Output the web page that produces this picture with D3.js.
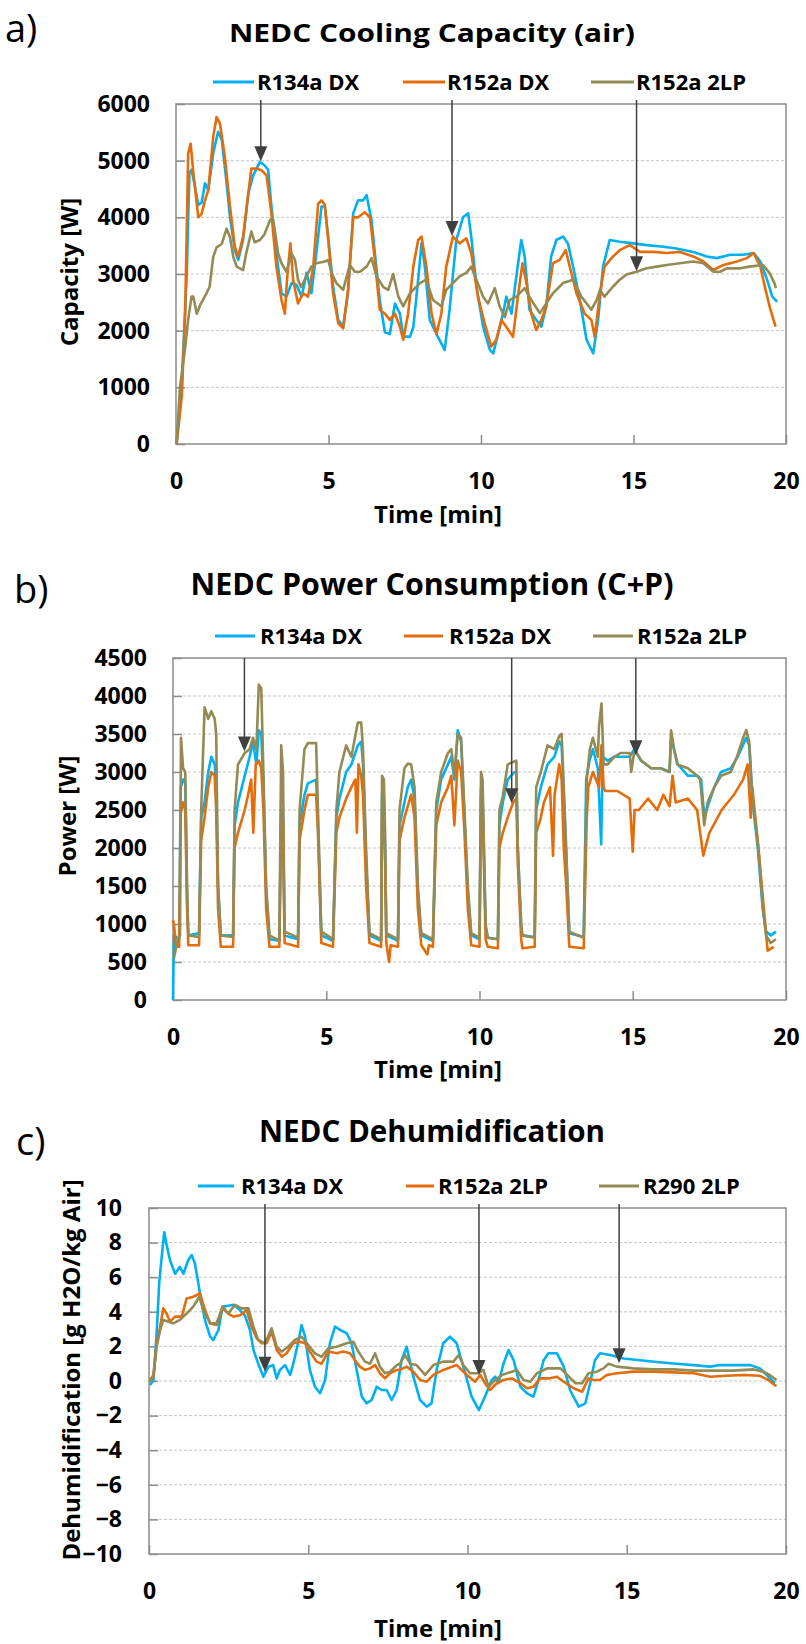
<!DOCTYPE html>
<html>
<head>
<meta charset="utf-8">
<script src="https://cdn.jsdelivr.net/npm/d3@7"></script>
<style>
body{margin:0;background:#fff;}
svg text{font-family:"Open Sans",sans-serif;font-weight:700;fill:#000;}
</style>
</head>
<body>
<script>
// ---- data: [time min, value] ----
var timeTicks = [0,5,10,15,20]
var capTicks = [0,1000,2000,3000,4000,5000,6000]
var powerTicks = [0,500,1000,1500,2000,2500,3000,3500,4000,4500]
var dehumTicks = [-10,-8,-6,-4,-2,0,2,4,6,8,10]

var namesAB = ["R134a DX","R152a DX","R152a 2LP"]
var namesC = ["R134a DX","R152a 2LP","R290 2LP"]
var colors = ["#00b0f0","#e46c0a","#948a54"]

var capR134aDX = [[0.02,0],[0.19,1100],[0.35,2960],[0.44,4780],[0.51,4840],[0.62,4550],[0.73,4220],[0.84,4260],[0.95,4600],[1.06,4480],[1.22,5130],[1.38,5510],[1.5,5370],[1.66,4600],[1.77,4000],[1.93,3420],[2.04,3250],[2.2,3600],[2.37,4420],[2.53,4740],[2.75,4980],[2.9,4920],[3.02,4840],[3.13,4190],[3.29,3370],[3.46,2660],[3.62,2600],[3.79,2840],[3.95,2810],[4.12,2600],[4.28,3020],[4.44,2660],[4.6,3370],[4.77,4190],[4.88,4190],[4.99,3660],[5.15,2780],[5.32,2190],[5.48,2070],[5.64,2660],[5.81,4070],[5.97,4300],[6.14,4300],[6.25,4390],[6.41,3950],[6.52,3370],[6.68,2540],[6.85,1970],[7.01,1940],[7.18,2480],[7.34,2300],[7.45,1900],[7.67,1890],[7.78,2060],[7.94,2900],[8.05,3540],[8.16,3130],[8.32,2190],[8.54,1940],[8.81,1660],[8.97,2370],[9.19,3600],[9.41,4000],[9.58,4070],[9.68,3660],[9.85,2780],[10.07,2070],[10.29,1660],[10.4,1600],[10.56,1940],[10.72,2300],[10.83,2600],[11.0,2300],[11.16,2960],[11.32,3600],[11.43,3310],[11.59,2370],[11.81,2190],[11.98,2070],[12.14,2430],[12.3,3310],[12.47,3600],[12.69,3660],[12.85,3540],[13.02,3130],[13.24,2540],[13.46,1840],[13.68,1600],[13.84,2190],[14.0,3130],[14.22,3600],[14.55,3570],[14.99,3540],[15.43,3510],[15.98,3480],[16.41,3450],[16.96,3390],[17.4,3310],[17.73,3280],[18.17,3340],[18.61,3340],[18.94,3370],[19.16,3220],[19.38,2900],[19.55,2600],[19.71,2510]]
var capR152aDX = [[0.02,0],[0.19,840],[0.3,2300],[0.4,5130],[0.48,5300],[0.57,4780],[0.73,4000],[0.84,4060],[0.95,4300],[1.06,4480],[1.22,5420],[1.33,5770],[1.44,5660],[1.6,5070],[1.77,4190],[1.93,3480],[2.04,3310],[2.2,3660],[2.37,4420],[2.47,4860],[2.64,4860],[2.8,4830],[2.97,4740],[3.13,4060],[3.29,3130],[3.46,2540],[3.57,2300],[3.64,2900],[3.75,3540],[3.84,2900],[4.0,2480],[4.17,2660],[4.33,2600],[4.5,3130],[4.66,4240],[4.77,4300],[4.88,4220],[4.99,3600],[5.15,2660],[5.32,2130],[5.48,2040],[5.64,2720],[5.81,4000],[5.97,4000],[6.19,4090],[6.36,4000],[6.52,3250],[6.68,2370],[6.85,2300],[7.01,2190],[7.18,2300],[7.34,2070],[7.45,1840],[7.61,2300],[7.78,3130],[7.94,3600],[8.05,3660],[8.21,3130],[8.38,2300],[8.54,1940],[8.7,2300],[8.86,3130],[9.08,3660],[9.3,3540],[9.52,3630],[9.68,3370],[9.9,2600],[10.12,2130],[10.34,1720],[10.5,1840],[10.67,2190],[10.83,2070],[11.05,1890],[11.21,2600],[11.36,3190],[11.49,2840],[11.65,2300],[11.81,2010],[11.98,2190],[12.14,2430],[12.36,3190],[12.58,3250],[12.78,3420],[12.91,3130],[13.13,2660],[13.4,2300],[13.62,2190],[13.73,1890],[13.9,2660],[14.05,3130],[14.33,3310],[14.55,3420],[14.88,3510],[15.21,3390],[15.65,3390],[16.09,3370],[16.52,3390],[16.96,3310],[17.29,3220],[17.62,3070],[17.95,3160],[18.39,3220],[18.72,3280],[18.94,3370],[19.16,3130],[19.33,2720],[19.49,2370],[19.66,2070]]
var capR152a2LP = [[0.02,0],[0.13,1000],[0.3,1700],[0.4,2200],[0.51,2600],[0.57,2600],[0.68,2300],[0.79,2450],[1.0,2660],[1.1,2770],[1.22,3300],[1.33,3470],[1.5,3530],[1.66,3800],[1.77,3650],[1.88,3300],[1.99,3130],[2.2,3070],[2.3,3360],[2.47,3750],[2.58,3560],[2.75,3600],[2.9,3700],[3.08,3950],[3.17,4000],[3.24,3770],[3.35,3360],[3.46,3190],[3.62,3040],[3.79,3360],[3.9,3250],[4.0,2900],[4.1,2770],[4.27,2950],[4.44,3130],[4.6,3190],[4.88,3220],[4.99,3250],[5.1,3020],[5.26,2840],[5.48,2720],[5.7,3160],[5.86,3040],[6.03,3040],[6.25,3130],[6.41,3280],[6.58,2950],[6.8,2770],[6.96,2720],[7.12,3000],[7.29,2600],[7.45,2430],[7.67,2660],[8.0,2840],[8.2,2900],[8.43,2540],[8.7,2430],[8.86,2720],[9.08,2840],[9.3,2960],[9.52,3020],[9.68,3130],[9.85,2900],[10.07,2600],[10.23,2480],[10.45,2750],[10.61,2430],[10.78,2240],[10.94,2540],[11.16,2600],[11.43,2750],[11.65,2540],[11.93,2310],[12.14,2480],[12.36,2660],[12.69,2840],[13.02,2900],[13.29,2600],[13.62,2370],[13.79,2540],[13.9,2720],[14.05,2600],[14.33,2780],[14.55,2900],[14.77,2990],[15.1,3040],[15.43,3100],[15.76,3130],[16.09,3160],[16.52,3190],[16.96,3220],[17.29,3190],[17.62,3040],[17.84,3040],[18.06,3100],[18.5,3100],[18.8,3130],[19.24,3160],[19.46,3020],[19.62,2840],[19.67,2750]]
var capArrows = [[2.78,4990],[9.05,3670],[15.1,3050]]

var powR134aDX = [[0,0],[0.03,850],[0.2,800],[0.25,2800],[0.33,2900],[0.4,2850],[0.46,1300],[0.5,850],[0.85,880],[0.92,2400],[1.03,2600],[1.15,3000],[1.25,3200],[1.36,3100],[1.41,2800],[1.47,1500],[1.56,850],[1.96,850],[2.01,2300],[2.12,2600],[2.34,2950],[2.5,3200],[2.61,3400],[2.72,3100],[2.8,3550],[2.88,3500],[2.95,2800],[3.04,1400],[3.15,800],[3.47,780],[3.53,2500],[3.59,2400],[3.64,850],[4.08,800],[4.13,2300],[4.29,2700],[4.4,2850],[4.67,2900],[4.73,2300],[4.84,850],[5.22,780],[5.33,2400],[5.43,2650],[5.65,3000],[5.82,3100],[6.03,3350],[6.14,3400],[6.2,3100],[6.3,1800],[6.41,850],[6.79,780],[6.82,2700],[6.88,2650],[6.92,2000],[6.96,850],[7.34,780],[7.39,2300],[7.55,2600],[7.66,2800],[7.77,2900],[7.88,2650],[7.99,1400],[8.1,850],[8.48,780],[8.59,2500],[8.75,2900],[8.97,3100],[9.08,3200],[9.18,2900],[9.29,3550],[9.4,3400],[9.51,2400],[9.62,1400],[9.73,850],[10.0,800],[10.05,2800],[10.1,2700],[10.2,950],[10.27,820],[10.6,800],[10.65,2300],[10.76,2600],[10.92,2900],[11.14,3000],[11.2,3000],[11.25,2000],[11.36,950],[11.4,850],[11.8,830],[11.85,2500],[12.0,2800],[12.22,3100],[12.44,3200],[12.6,3400],[12.68,3350],[12.83,1900],[12.93,880],[13.4,830],[13.48,2900],[13.59,3150],[13.7,3300],[13.86,3050],[13.97,2050],[14.02,3200],[14.18,3150],[14.4,3200],[14.62,3200],[14.9,3200],[15.05,3300],[15.27,3150],[15.6,3050],[15.92,3050],[16.2,3000],[16.25,3450],[16.47,3100],[16.8,2950],[17.12,2950],[17.23,2900],[17.34,2400],[17.45,2550],[17.66,2800],[17.88,3000],[18.2,3050],[18.42,3200],[18.59,3350],[18.7,3450],[18.8,3350],[18.91,2600],[19.08,2000],[19.24,1200],[19.35,900],[19.51,850],[19.67,900]]
var powR152aDX = [[0,1050],[0.03,1000],[0.1,700],[0.2,700],[0.25,2450],[0.33,2600],[0.4,2500],[0.46,1200],[0.5,720],[0.85,720],[0.92,2100],[1.03,2400],[1.15,2800],[1.25,3000],[1.36,2950],[1.41,2500],[1.47,1200],[1.56,700],[1.96,700],[2.01,2000],[2.12,2200],[2.34,2500],[2.45,2700],[2.55,2900],[2.62,2200],[2.7,3100],[2.8,3150],[2.88,3050],[2.95,2500],[3.04,1200],[3.15,700],[3.47,700],[3.53,2400],[3.59,2300],[3.64,750],[4.08,700],[4.13,2100],[4.29,2500],[4.4,2700],[4.67,2700],[4.73,2200],[4.84,750],[5.22,700],[5.33,2200],[5.43,2400],[5.65,2650],[5.82,2800],[5.95,2900],[6.0,2200],[6.05,3100],[6.14,2950],[6.2,2700],[6.3,1500],[6.41,750],[6.79,700],[6.82,2400],[6.88,2300],[6.92,1800],[6.96,750],[7.05,500],[7.1,720],[7.34,700],[7.39,2100],[7.55,2400],[7.66,2550],[7.77,2700],[7.88,2400],[7.99,1200],[8.1,720],[8.3,600],[8.35,720],[8.48,700],[8.59,2300],[8.75,2600],[8.97,2800],[9.08,2950],[9.18,2300],[9.29,3150],[9.4,3000],[9.51,2200],[9.62,1200],[9.73,720],[10.0,700],[10.05,2700],[10.1,2600],[10.2,800],[10.27,700],[10.6,680],[10.65,2000],[10.76,2200],[10.92,2400],[11.1,2600],[11.2,2650],[11.25,1800],[11.36,800],[11.4,680],[11.8,700],[11.85,2200],[12.0,2400],[12.1,2600],[12.3,2800],[12.4,1900],[12.45,2700],[12.6,3100],[12.68,2900],[12.75,2000],[12.83,1500],[12.93,700],[13.4,680],[13.5,2400],[13.55,2800],[13.7,3000],[13.9,2800],[13.98,3350],[14.05,2800],[14.1,2750],[14.5,2750],[14.9,2650],[15.0,1950],[15.06,2500],[15.2,2500],[15.5,2650],[15.8,2500],[16.0,2700],[16.2,2550],[16.3,2950],[16.4,2600],[16.8,2650],[17.1,2500],[17.3,1900],[17.5,2200],[17.9,2500],[18.3,2700],[18.6,2900],[18.75,3100],[18.85,2400],[18.9,2800],[19.1,2000],[19.3,1100],[19.4,650],[19.6,700]]
var powR152a2LP = [[0.03,550],[0.16,800],[0.23,850],[0.26,3450],[0.33,3050],[0.4,3000],[0.46,1500],[0.5,850],[0.85,830],[0.92,2500],[1.03,3850],[1.15,3700],[1.25,3800],[1.36,3700],[1.41,3500],[1.47,1500],[1.56,850],[1.96,830],[2.01,2500],[2.12,3100],[2.34,3250],[2.5,3300],[2.61,3450],[2.72,3300],[2.8,4150],[2.88,4100],[2.95,3000],[3.04,1500],[3.15,850],[3.47,780],[3.53,3350],[3.59,3000],[3.64,900],[4.08,820],[4.13,2500],[4.29,3300],[4.4,3380],[4.67,3380],[4.73,2500],[4.84,900],[5.22,800],[5.33,2500],[5.43,3000],[5.65,3350],[5.82,3200],[6.03,3650],[6.14,3650],[6.2,3300],[6.3,2000],[6.41,880],[6.79,800],[6.82,2950],[6.88,2900],[6.92,2200],[6.96,880],[7.34,800],[7.39,2500],[7.55,3050],[7.66,3110],[7.77,3100],[7.88,2800],[7.99,1500],[8.1,880],[8.48,800],[8.59,2600],[8.75,3000],[8.97,3250],[9.08,3300],[9.18,2950],[9.29,3500],[9.4,3450],[9.51,2500],[9.62,1500],[9.73,880],[10.0,820],[10.05,3000],[10.1,2900],[10.2,1000],[10.27,820],[10.6,800],[10.65,2500],[10.76,2680],[10.92,3100],[11.2,3150],[11.25,2000],[11.36,1000],[11.4,850],[11.8,820],[11.85,2800],[12.0,3000],[12.22,3350],[12.44,3300],[12.6,3470],[12.68,3500],[12.83,2000],[12.93,900],[13.4,820],[13.5,2900],[13.6,3300],[13.7,3450],[13.86,3200],[13.9,3600],[13.98,3900],[14.05,3100],[14.18,3100],[14.4,3200],[14.6,3250],[14.9,3250],[14.95,3000],[15.06,3300],[15.28,3150],[15.6,3050],[15.9,3050],[16.2,3000],[16.25,3550],[16.35,3300],[16.45,3100],[16.8,3050],[17.1,2950],[17.2,2900],[17.33,2300],[17.44,2600],[17.66,2800],[17.88,2950],[18.2,3000],[18.4,3200],[18.6,3450],[18.7,3550],[18.8,3400],[18.9,2700],[19.1,2000],[19.25,1200],[19.35,850],[19.5,750],[19.67,800]]
var powArrows = [[2.33,3270],[11.05,2590],[15.1,3220]]

var dehR134aDX = [[0.03,-0.23],[0.14,0.06],[0.24,2.76],[0.32,5.64],[0.4,7.2],[0.48,8.6],[0.55,7.9],[0.66,6.98],[0.82,6.2],[0.97,6.6],[1.08,6.2],[1.23,6.98],[1.34,7.28],[1.44,6.8],[1.55,5.65],[1.65,4.5],[1.76,3.5],[1.92,2.56],[2.02,2.37],[2.18,2.95],[2.31,4.3],[2.44,4.33],[2.65,4.4],[2.8,4.2],[3.01,3.8],[3.17,2.95],[3.28,1.8],[3.43,1.0],[3.59,0.25],[3.75,0.83],[3.9,0.92],[4.01,0.15],[4.11,0.64],[4.27,0.92],[4.43,0.35],[4.53,1.0],[4.69,2.27],[4.79,3.23],[4.9,2.56],[5.05,0.64],[5.21,-0.33],[5.37,-0.71],[5.53,0.06],[5.68,2.18],[5.84,3.14],[6.0,2.95],[6.21,2.76],[6.36,2.18],[6.52,0.64],[6.68,-0.9],[6.83,-1.29],[6.99,-1.1],[7.15,-0.33],[7.3,-0.52],[7.46,-0.52],[7.62,-1.1],[7.78,-0.52],[7.93,1.2],[8.09,1.98],[8.3,0.25],[8.51,-1.1],[8.72,-1.48],[8.87,-1.29],[9.03,0.64],[9.24,2.18],[9.45,2.56],[9.66,2.18],[9.87,0.83],[10.13,-0.9],[10.36,-1.68],[10.55,-0.9],[10.76,0.06],[10.87,0.25],[10.97,-0.13],[11.13,1.0],[11.29,1.79],[11.45,1.2],[11.66,-0.33],[11.87,-0.71],[12.07,-0.9],[12.23,0.06],[12.39,1.2],[12.54,1.6],[12.81,1.6],[13.02,0.83],[13.22,-0.52],[13.49,-1.48],[13.7,-1.29],[13.85,-0.13],[14.0,1.2],[14.16,1.6],[14.48,1.5],[14.9,1.3],[15.42,1.2],[15.94,1.1],[16.57,1.0],[17.1,0.92],[17.62,0.83],[17.93,0.92],[18.35,0.92],[18.87,0.92],[19.18,0.73],[19.39,0.35],[19.65,-0.13]]
var dehR152a2LP = [[0.03,0.06],[0.14,0.35],[0.24,2.18],[0.35,3.14],[0.45,4.2],[0.55,3.9],[0.66,3.43],[0.82,3.72],[1.03,3.72],[1.18,4.77],[1.39,4.87],[1.6,5.07],[1.76,4.1],[1.92,3.33],[2.12,3.24],[2.31,4.2],[2.49,3.9],[2.65,3.72],[2.86,3.8],[3.07,4.1],[3.22,3.14],[3.38,2.47],[3.54,2.18],[3.69,2.18],[3.85,2.85],[4.01,1.8],[4.17,1.4],[4.32,1.6],[4.53,2.18],[4.74,2.27],[4.9,2.18],[5.05,1.7],[5.26,1.12],[5.42,1.0],[5.63,1.7],[5.89,1.6],[6.1,1.7],[6.31,1.6],[6.47,1.2],[6.62,0.83],[6.78,0.64],[6.94,0.73],[7.1,0.92],[7.25,0.45],[7.41,0.15],[7.57,0.45],[7.78,0.64],[7.88,0.64],[8.09,0.83],[8.3,0.54],[8.51,0.06],[8.72,-0.04],[8.93,0.35],[9.24,0.64],[9.66,0.92],[9.98,0.35],[10.24,-0.04],[10.4,0.35],[10.55,-0.13],[10.71,-0.52],[10.92,-0.13],[11.13,0.06],[11.39,0.15],[11.66,-0.13],[11.87,-0.42],[12.07,-0.33],[12.28,0.15],[12.54,0.15],[12.81,0.25],[13.02,-0.04],[13.33,-0.42],[13.6,-0.62],[13.8,0.15],[13.96,0.06],[14.16,0.06],[14.37,0.35],[14.69,0.45],[15.21,0.54],[15.84,0.54],[16.47,0.5],[17.1,0.45],[17.62,0.25],[18.14,0.3],[18.66,0.35],[19.18,0.3],[19.44,0.06],[19.7,-0.3]]
var dehR2902LP = [[0.03,-0.04],[0.14,0.25],[0.24,1.98],[0.35,2.95],[0.45,3.53],[0.61,3.43],[0.76,3.33],[0.97,3.53],[1.18,3.9],[1.39,4.3],[1.58,4.87],[1.71,4.1],[1.92,3.33],[2.12,3.33],[2.31,4.3],[2.49,3.9],[2.7,4.4],[2.91,4.2],[3.12,4.2],[3.28,3.14],[3.43,2.37],[3.64,2.18],[3.85,3.05],[4.01,1.98],[4.17,1.7],[4.37,1.98],[4.58,2.37],[4.79,2.56],[5.0,2.08],[5.21,1.6],[5.42,1.4],[5.63,1.89],[5.89,1.98],[6.21,2.18],[6.42,2.27],[6.57,1.7],[6.78,1.12],[6.94,1.0],[7.1,1.6],[7.25,0.83],[7.41,0.45],[7.57,0.54],[7.78,0.92],[7.88,1.0],[8.04,1.5],[8.2,1.0],[8.4,0.92],[8.67,0.35],[8.93,0.92],[9.24,1.12],[9.56,1.12],[9.72,1.5],[9.87,0.92],[10.08,0.45],[10.34,0.45],[10.5,0.64],[10.66,-0.33],[10.87,0.06],[11.08,0.35],[11.39,0.54],[11.55,0.64],[11.76,0.06],[11.97,-0.04],[12.18,0.45],[12.5,0.73],[12.92,0.73],[13.13,0.35],[13.39,-0.13],[13.6,-0.13],[13.8,0.45],[14.06,0.54],[14.27,0.73],[14.43,1.0],[14.69,0.83],[15.21,0.73],[15.84,0.67],[16.47,0.67],[17.1,0.6],[17.62,0.6],[18.35,0.6],[18.98,0.67],[19.29,0.54],[19.49,0.35],[19.7,0.06]]
var dehArrows = [[3.64,0.54],[10.36,0.35],[14.76,1.02]]

var svg = d3.select("body").append("svg")
    .attr("width",806)
    .attr("height",1644)

var drawPanel = function(p)
{
    var xScale = d3.scaleLinear().domain([0,20]).range([p.left,p.right])
    var yScale = d3.scaleLinear().domain([p.yTicks[0],p.yTicks[p.yTicks.length-1]]).range([p.bottom,p.top])
    var g = svg.append("g")

    // dashed grid
    g.append("g").selectAll("line")
        .data(p.yTicks.slice(1,-1))
        .enter().append("line")
        .attr("x1",p.left).attr("x2",p.right)
        .attr("y1",function(d){return yScale(d)})
        .attr("y2",function(d){return yScale(d)})
        .attr("stroke","#c4c4c4")
        .attr("stroke-width",1)
        .attr("stroke-dasharray","3,2")

    // axes with inward ticks
    var yAxis = g.append("g")
        .attr("transform","translate("+p.left+",0)")
        .call(d3.axisLeft(yScale).tickValues(p.yTicks).tickSize(-9).tickPadding(p.yPad).tickFormat(d3.format("d")))
    var xAxis = g.append("g")
        .attr("transform","translate(0,"+p.bottom+")")
        .call(d3.axisBottom(xScale).tickValues(timeTicks).tickSize(-9).tickPadding(29))
    ;[yAxis,xAxis].forEach(function(a){
        a.select(".domain").remove()
        a.selectAll("line").attr("stroke","#8c8c8c").attr("stroke-width",1.5)
        a.selectAll("text").attr("font-size",23).attr("fill","#000")
            .style("font-family","'Open Sans',sans-serif").style("font-weight",700)
    })

    // plot frame
    g.append("rect")
        .attr("x",p.left).attr("y",p.top)
        .attr("width",p.right-p.left).attr("height",p.bottom-p.top)
        .attr("fill","none").attr("stroke","#8c8c8c").attr("stroke-width",1.5)

    // series lines
    var lineGen = d3.line()
        .x(function(d){return xScale(d[0])})
        .y(function(d){return yScale(d[1])})
    g.append("g").selectAll("path")
        .data(p.series)
        .enter().append("path")
        .attr("d",lineGen)
        .attr("fill","none")
        .attr("stroke",function(d,i){return colors[i]})
        .attr("stroke-width",2.6)
        .attr("stroke-linejoin","round")

    // arrows
    var arr = g.append("g").selectAll("g").data(p.arrows).enter().append("g")
    arr.append("line")
        .attr("x1",function(d){return xScale(d[0])})
        .attr("x2",function(d){return xScale(d[0])})
        .attr("y1",p.arrowTop)
        .attr("y2",function(d){return yScale(d[1])-14})
        .attr("stroke","#404040").attr("stroke-width",1.5)
    arr.append("path")
        .attr("d",function(d){
            var x = xScale(d[0]), y = yScale(d[1])
            return "M"+(x-6.5)+","+(y-15)+"L"+(x+6.5)+","+(y-15)+"L"+x+","+y+"Z"
        })
        .attr("fill","#404040")

    // legend
    var leg = g.append("g").selectAll("g").data(p.names).enter().append("g")
    leg.append("line")
        .attr("x1",function(d,i){return p.legend[i][0]})
        .attr("x2",function(d,i){return p.legend[i][1]})
        .attr("y1",p.legendY-8).attr("y2",p.legendY-8)
        .attr("stroke",function(d,i){return colors[i]})
        .attr("stroke-width",3)
    leg.append("text")
        .attr("x",function(d,i){return p.legend[i][2]})
        .attr("y",p.legendY)
        .attr("font-size",22)
        .text(function(d){return d})

    // title and labels
    g.append("text")
        .attr("x",432).attr("y",p.titleY)
        .attr("text-anchor","middle")
        .attr("font-size",p.titleSize)
        .attr("textLength",p.titleLen)
        .attr("lengthAdjust","spacingAndGlyphs")
        .text(p.title)
    g.append("text")
        .attr("x",p.letterX).attr("y",p.letterY)
        .attr("font-size",38)
        .style("font-weight",400)
        .text(p.letter)
    g.append("text")
        .attr("x",438).attr("y",p.bottom+p.xTitleDy)
        .attr("text-anchor","middle")
        .attr("font-size",24)
        .text("Time [min]")
    g.append("text")
        .attr("transform","translate("+p.yLabelX+","+p.yLabelY+") rotate(-90)")
        .attr("text-anchor","middle")
        .attr("font-size",24)
        .text(p.yLabel)
}

drawPanel({
    letter:"a)", letterX:5, letterY:42,
    title:"NEDC Cooling Capacity (air)", titleY:42, titleSize:25, titleLen:406,
    left:176, right:786, top:104, bottom:444,
    yTicks:capTicks, yPad:26, yLabel:"Capacity [W]", yLabelX:78, yLabelY:272,
    xTitleDy:79,
    series:[capR134aDX,capR152aDX,capR152a2LP], names:namesAB,
    legendY:90, legend:[[213,254,257],[403,445,447],[591,634,636]],
    arrows:capArrows, arrowTop:100
})

drawPanel({
    letter:"b)", letterX:14, letterY:603,
    title:"NEDC Power Consumption (C+P)", titleY:595, titleSize:30, titleLen:483,
    left:173, right:786, top:658, bottom:1000,
    yTicks:powerTicks, yPad:26, yLabel:"Power [W]", yLabelX:76, yLabelY:816,
    xTitleDy:78,
    series:[powR134aDX,powR152aDX,powR152a2LP], names:namesAB,
    legendY:644, legend:[[215,255,260],[404,443,449],[593,633,637]],
    arrows:powArrows, arrowTop:658
})

drawPanel({
    letter:"c)", letterX:16, letterY:1155,
    title:"NEDC Dehumidification", titleY:1142, titleSize:30, titleLen:346,
    left:149, right:786, top:1208, bottom:1554,
    yTicks:dehumTicks, yPad:27, yLabel:"Dehumidification [g H2O/kg Air]", yLabelX:80, yLabelY:1370,
    xTitleDy:83,
    series:[dehR134aDX,dehR152a2LP,dehR2902LP], names:namesC,
    legendY:1194, legend:[[198,234,241],[406,434,438],[599,639,643]],
    arrows:dehArrows, arrowTop:1204
})
</script>
</body>
</html>
